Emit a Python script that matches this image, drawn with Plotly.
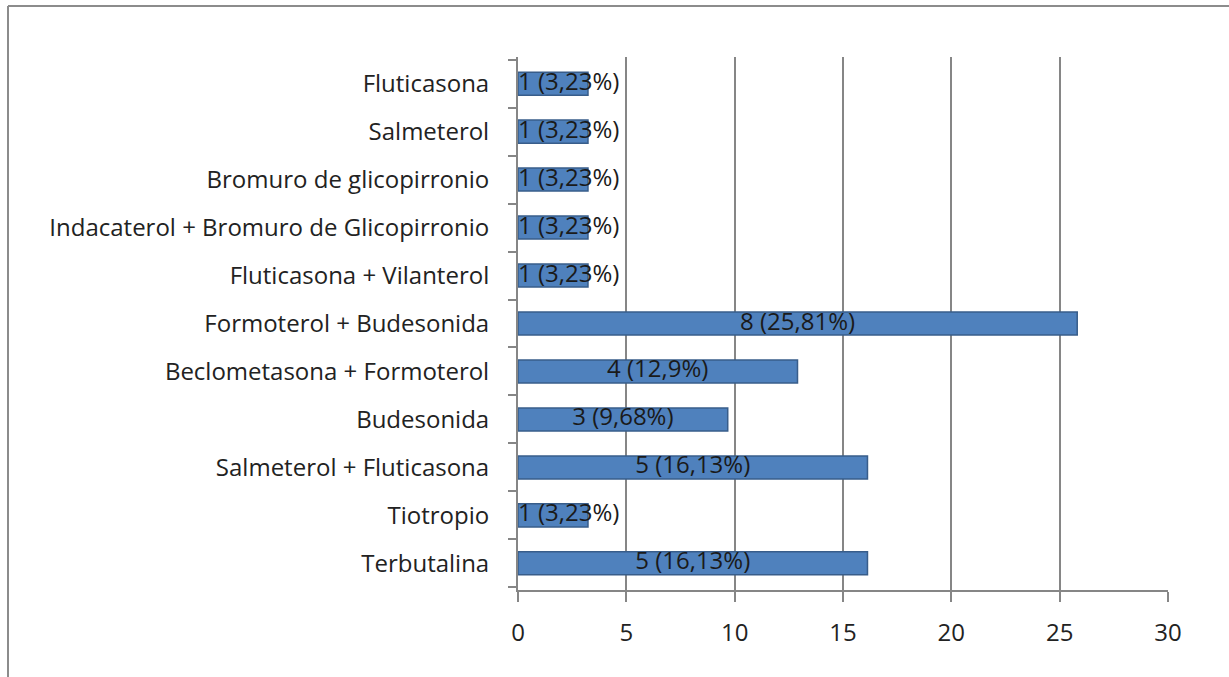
import plotly.graph_objects as go

categories = [
    "Terbutalina",
    "Tiotropio",
    "Salmeterol + Fluticasona",
    "Budesonida",
    "Beclometasona + Formoterol",
    "Formoterol + Budesonida",
    "Fluticasona + Vilanterol",
    "Indacaterol + Bromuro de Glicopirronio",
    "Bromuro de glicopirronio",
    "Salmeterol",
    "Fluticasona",
]
counts = [5, 1, 5, 3, 4, 8, 1, 1, 1, 1, 1]
percents = [16.13, 3.23, 16.13, 9.68, 12.9, 25.81, 3.23, 3.23, 3.23, 3.23, 3.23]
x_ticks = [0, 5, 10, 15, 20, 25, 30]


def fmt(c, p):
    s = ("%.2f" % p).rstrip("0").rstrip(".")
    return "%d (%s%%)" % (c, s.replace(".", ","))


labels = [fmt(c, p) for c, p in zip(counts, percents)]

FONT = "'Open Sans', Lato, sans-serif"
FS = 24
BAR = "#4F81BD"
EDGE = "#385D8A"
GRID = "#868686"

fig = go.Figure()
fig.add_trace(go.Bar(
    y=categories,
    x=percents,
    orientation="h",
    marker=dict(color=BAR, line=dict(color=EDGE, width=1.5)),
    hoverinfo="skip",
    showlegend=False,
))

# data labels: centred on long bars, starting at the bar base for short ones
big = [p >= 8 for p in percents]
fig.add_trace(go.Scatter(
    y=[c for c, b in zip(categories, big) if b],
    x=[p / 2 for p, b in zip(percents, big) if b],
    text=[l for l, b in zip(labels, big) if b],
    mode="text",
    textposition="middle center",
    textfont=dict(family=FONT, size=FS, color="#1a1a1a"),
    hoverinfo="skip",
    showlegend=False,
    cliponaxis=False,
))
fig.add_trace(go.Scatter(
    y=[c for c, b in zip(categories, big) if not b],
    x=[0 for b in big if not b],
    text=[l for l, b in zip(labels, big) if not b],
    mode="text",
    textposition="middle right",
    textfont=dict(family=FONT, size=FS, color="#1a1a1a"),
    hoverinfo="skip",
    showlegend=False,
    cliponaxis=False,
))

L, R, T, B = 518, 61, 57, 87
W, H = 1229, 677
pw = W - L - R
ph = H - T - B

fig.update_layout(
    width=W,
    height=H,
    margin=dict(l=L, r=R, t=T, b=B, pad=0),
    paper_bgcolor="white",
    plot_bgcolor="white",
    bargap=0.52,
    font=dict(family=FONT, size=FS, color="#222222"),
    xaxis=dict(
        range=[0, 30],
        tickvals=x_ticks,
        showgrid=True,
        gridcolor=GRID,
        gridwidth=2,
        zeroline=False,
        showline=True,
        linecolor=GRID,
        linewidth=2,
        ticks="outside",
        ticklen=10,
        tickcolor=GRID,
        tickwidth=2,
        tickfont=dict(family=FONT, size=FS, color="#222222"),
        ticklabelstandoff=10,
        fixedrange=True,
    ),
    yaxis=dict(
        categoryorder="array",
        categoryarray=categories,
        showline=True,
        linecolor=GRID,
        linewidth=2,
        ticks="outside",
        tickson="boundaries",
        ticklen=8,
        tickcolor=GRID,
        tickwidth=2,
        showgrid=False,
        tickfont=dict(family=FONT, size=FS, color="#222222"),
        ticklabelstandoff=22,
        fixedrange=True,
    ),
    shapes=[
        dict(type="line", xref="paper", yref="paper",
             x0=(8 - L) / pw, x1=(W + 10 - L) / pw,
             y0=(H - B - 6) / ph, y1=(H - B - 6) / ph,
             line=dict(color="#8C8C8C", width=2)),
        dict(type="line", xref="paper", yref="paper",
             x0=(8 - L) / pw, x1=(8 - L) / pw,
             y0=(H - B - 6) / ph, y1=(H - B - H - 10) / ph,
             line=dict(color="#8C8C8C", width=2)),
    ],
)

fig.write_html(
    "out.html",
    config={"displayModeBar": False},
    post_script="document.body.style.margin='0';document.body.style.overflow='hidden';",
)
